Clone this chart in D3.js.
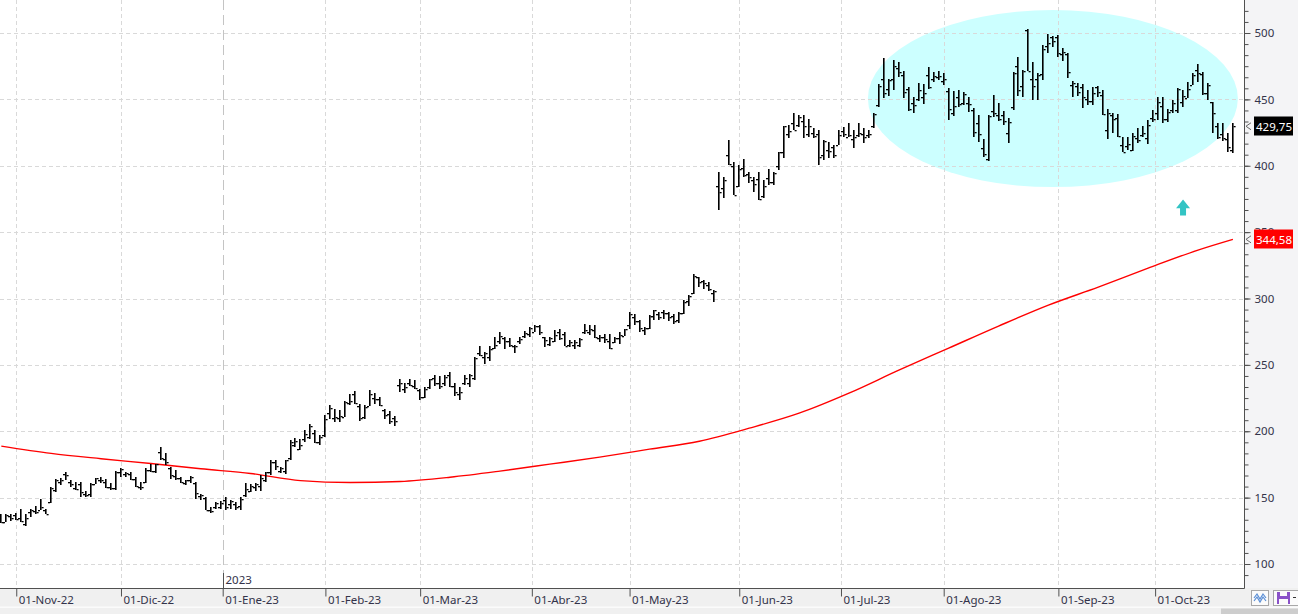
<!DOCTYPE html>
<html><head><meta charset="utf-8">
<script src="https://cdn.jsdelivr.net/npm/d3@7"></script>
<style>
html,body{margin:0;padding:0;background:#fff;overflow:hidden}
svg{display:block;font-family:"Noto Sans","Open Sans",sans-serif}
</style></head><body>
<svg id="c" width="1298" height="614"></svg>
<script>
// ---------- DATA ----------
const tradingDays = [
 ["2022-10",[27,28,31]],
 ["2022-11",[1,2,3,4,7,8,9,10,11,14,15,16,17,18,21,22,23,25,28,29,30]],
 ["2022-12",[1,2,5,6,7,8,9,12,13,14,15,16,19,20,21,22,23,27,28,29,30]],
 ["2023-01",[3,4,5,6,9,10,11,12,13,17,18,19,20,23,24,25,26,27,30,31]],
 ["2023-02",[1,2,3,6,7,8,9,10,13,14,15,16,17,21,22,23,24,27,28]],
 ["2023-03",[1,2,3,6,7,8,9,10,13,14,15,16,17,20,21,22,23,24,27,28,29,30,31]],
 ["2023-04",[3,4,5,6,10,11,12,13,14,17,18,19,20,21,24,25,26,27,28]],
 ["2023-05",[1,2,3,4,5,8,9,10,11,12,15,16,17,18,19,22,23,24,25,26,30,31]],
 ["2023-06",[1,2,5,6,7,8,9,12,13,14,15,16,20,21,22,23,26,27,28,29,30]],
 ["2023-07",[3,5,6,7,10,11,12,13,14,17,18,19,20,21,24,25,26,27,28,31]],
 ["2023-08",[1,2,3,4,7,8,9,10,11,14,15,16,17,18,21,22,23,24,25,28,29,30,31]],
 ["2023-09",[1,5,6,7,8,11,12,13,14,15,18,19,20,21,22,25,26,27,28,29]],
 ["2023-10",[2,3,4,5,6,9,10,11,12,13,16,17,18,19,20,23]]
];

const opens = [134,132,136,
137,135,130,139,140,141,141,147,156,162,168,162,157,160,153,153,160.5,163,162,158,157,
169,168,168,164,158,162,171,170,184,179,172,166,165,161,163,161,151,150,141,143,143,
148.5,145.5,145,144,152,155,158,159,163,169,177,170,170,180,190,187,194,196,199,192,
197,214,210,210,211,221,228,219,211,219,225,224,216,213,210,235,232,236,234,
231,226,233,240,236,236,242,234,228,236,236,240,259,256,256,263,268,270,268,264,268,272,273,
275,279,271,266,268,275,273,265,265,265,275,275,276,270,271,268,267,270,272,
280,286,283,276,278,287,288,290,289,287,284,289,298,304,316,313,310,304,385,383,408,400,
385,398,394,389,390,377,391,388,400,410,424,432,431,434,424,425,424,408,412,414,416,
426,422,420,423,424,423,430,446,465,458,465,474,468,458,447,450,452,468,465,467,
464,456,440,452,447,447,442,432,413,405,441,438,438,425,444,475,460,502,465,465,469,490,497,
497,484,484,461,460,459,450,449,459,453,427,438,436,416,415,412,421,423,421,436,
440,445,435,442,442,448,451,461,472,469,455,448,430,424,420,412];

const highs = [137.5,137.5,138,
138.5,141.5,137.5,141.8,143.6,148.6,141.8,158.1,164.4,164.9,169.4,163.2,161.9,161.9,155.1,160.7,164.9,165.2,163.7,160.7,170,
172,169.4,169.4,165.7,161.9,172,175.7,175.7,188.3,183.3,173.2,170.7,165.7,163.2,166.2,161.9,153.1,150.6,142.6,146.8,147.6,
150.1,148.1,146.8,150.1,160.7,160.2,160.7,166.9,169.4,178.2,178.2,173.2,178.2,193.3,194.6,194.5,200.8,205.8,201.3,197,
212.1,219.6,217.1,215.9,222.6,228.4,230.2,220.9,219.6,230.9,228.9,225.9,217.1,215.4,211.3,239,236.5,239,238.5,
232.2,233.5,239.7,242.2,241.7,242.7,244.8,236,233.5,242.2,243.5,256,264.1,259.8,264,271,275,271.1,269.9,264.8,271.1,275.6,278.6,
279.9,279.9,271.1,271.1,276.1,277.4,274.9,268.6,268.6,269.9,281,279.9,279.9,272.4,273.6,273.6,271.1,274.9,277.4,
289.9,288.7,283.7,278.6,287.4,291.7,289.9,291.2,289.9,288.7,289.9,298.8,302.5,318.3,316.3,313.8,312.6,306.3,395.5,391.7,419.3,403,
400.5,404.8,395.5,391.7,395.5,389.2,397.2,395.5,410.5,429.9,430.6,439.9,438,438,435,428.1,426.9,419.3,418.1,415.6,426.9,
429.4,431.9,426.9,431.9,428.2,426.9,439.5,461.6,480.9,465.1,479.7,478.4,471.6,459.6,452,462.1,461.6,474.1,470.9,471.6,
469.6,458.3,456.5,457,455.8,452,443.2,438.2,419.9,438.2,453.3,447,441.5,435.7,470.9,482.2,472.1,502.8,478.4,469.6,491,499.3,497.7,
498.5,488.4,485.2,463.8,462.1,461.3,457,459.1,460.1,457,442.5,440,439,421.4,421.9,424.9,428.2,429.9,434.4,442,
452,451.5,442.5,449.5,458.3,457,463.3,469.6,476.6,470.9,462.6,448.3,432.4,432.4,424.4,432.4];

const lows = [131,131.8,132.5,
133,132,128.7,135.5,137.5,140.6,137.3,145.6,154.4,159.4,163.2,158.1,155.6,150.6,150.6,150.6,160,161.2,157.4,155.6,156.1,
165.7,165.2,163.2,158.1,155.6,161,169.4,168.2,178.2,174.5,164.4,163.2,160.7,159.4,160.7,148.6,148.1,140.6,138.6,141.8,141.1,
140.6,141.8,140.6,140.6,150.6,154.4,155.1,155.1,161.9,166.9,170.7,168.2,167.7,178.2,188.3,185.7,192,194.5,191.3,189.5,
195.8,209.6,207.1,207.1,210.8,219.6,220.9,207.8,209.1,218.9,220.9,219.1,209.1,205.8,203.8,229.7,228.9,234,231.7,
223.9,224.7,231.7,234.2,232.2,234.2,233.5,226.7,223.4,234.7,233.5,238.5,256.6,251,253,262,266.1,262.3,263.1,258.6,266.1,270.6,271.1,
274.9,272.4,263.6,264.1,267.3,268.6,264.1,263.1,262.3,263.1,273.6,272.4,269.9,267.3,266.6,262.3,266.6,266.1,271.6,
277.4,279.9,274.9,272.4,277.4,283.7,283.7,284.2,283.2,280.7,281.2,288.7,294.2,303.3,308.8,307.5,305.8,297.5,366.6,375.4,400.5,377.9,
384.2,391.7,386.7,380.4,374.1,375.4,385.4,385.4,396.7,405.5,420.6,426.9,429.4,420.6,421.8,420.6,400.5,404.2,405.5,405.5,415.6,
421.8,421.8,413,421.8,416.8,420.6,428.2,444.5,450.8,452.5,457,467.1,450.8,441.5,440,449,446.5,457.6,463.3,464.6,
460.8,434.4,437.5,444,445.7,440.7,421.4,418.1,406.3,403.8,436.9,433.9,430.7,416.9,442,452.5,452,471,449.5,449.5,464.6,484.7,489.7,
482.2,479.2,465.8,451.5,452.5,443.2,445.7,445.7,452,438.2,419.9,424.4,421.9,410.1,411.8,411.3,416.9,421.9,416.4,433.2,
434.4,432.4,433.2,439.5,439.5,444.5,450.8,460.8,463.3,453.3,449.5,424.4,419.9,418.9,410.6,409.3];

const closes = [132,137,135,
134,132.5,134.5,140.5,139.5,143,137.5,157.5,163,163.5,167,159.9,156.8,154,152,160.3,164.5,163,158.3,157,169.2,
171.5,168.5,164,159,158,171,170,175,180,177,167,165,162,163,165.6,153.4,152,141,140,146,146,
143,147.5,142.7,148.6,156.3,159,160,165,169,177,173.8,172,178,192,192.5,189.4,197.9,203.7,191.9,195.4,
209.4,217.7,211,211.5,222,222.5,221,210,218,228,224,220,212,208,207.5,236.6,233,235,232.5,
226,232,239,236,234,241,234,229.6,229.6,240,242,255.4,257.2,259,262,264.7,271.9,267.8,265.3,264.1,269.8,273.8,277.8,
279.6,274.5,268.8,270.4,272.2,270,264.3,267.6,267.2,269.5,276.5,277,271,271.3,269.6,263,270,272.3,277.3,
288,283,278,278,286.9,291,286,289,286,283.4,289,297,301.8,316.8,312.6,311.8,306.9,305.4,380,389.5,401.1,378.3,
397.7,393.3,391.7,386.5,374.75,385.1,387.7,394.8,410.2,429.9,426.5,427,436.4,430,430.3,422.5,406.3,418.8,411.2,408.2,423,
424.1,423,421.8,425,421.8,424,439,459.8,454.7,464.6,474.9,470.8,455.2,443.1,446.1,456.8,454.5,459,467.5,467.3,
465,442.7,445.2,446.8,454.2,446.6,425.5,423.9,408.5,437.5,439.4,434.9,433.4,433,469.7,456.7,471.2,471.6,460.2,468.4,487.8,492.6,493.6,
485.1,485.5,470.6,462.4,455.7,451.8,448.7,454.9,455.8,439,439.7,435.2,422.4,410.2,416.1,422.2,419.1,424.7,430.9,435,
447.8,435.2,440.4,446.9,457.6,452.7,458,468.1,469.5,454.6,461,439.4,422,421,413.9,429.75];

// 200-session moving average (bar number, value)
const smaBars   = [0,10,20,30,40,50,60,70,80,90,100,110,120,130,140,150,160,170,180,190,200,210,220,230,240,247];
const smaValues = [188.8,183.3,179.3,175.7,171.7,168.2,162.8,161.4,162.2,165.4,170,175.2,180.5,186.5,192.5,202.3,213.6,228.7,246,262.6,279.2,295,308.6,322.9,336.5,344.58];

const monthKeys   = ["2022-11","2022-12","2023-01","2023-02","2023-03","2023-04","2023-05","2023-06","2023-07","2023-08","2023-09","2023-10"];
const monthLabels = ["01-Nov-22","01-Dic-22","01-Ene-23","01-Feb-23","01-Mar-23","01-Abr-23","01-May-23","01-Jun-23","01-Jul-23","01-Ago-23","01-Sep-23","01-Oct-23"];
const yearMark = {key:"2023-01", label:"2023"};
const priceTicks = [100,150,200,250,300,350,400,450,500];

// annotation (in data units)
const zone = {bar:210.9, price:450.6, halfBars:37.1, halfPrice:66.7};
const arrowMark = {bar:237, top:374.5, bottom:362.6};

// ---------- BUILD ----------
const dates = [];
tradingDays.forEach(([m,days]) => days.forEach(d => dates.push({month:m, day:d})));
const n = dates.length;

const svg = d3.select("#c");
const W = 1298, H = 614, plotR = 1244, plotB = 588;

const x = d3.scaleLinear().domain([0, n-1]).range([1.3, 1232.9]);
const y = d3.scaleLinear().domain([100, 500]).range([564, 33]);

// backgrounds
svg.append("rect").attr("width",W).attr("height",H).attr("fill","#fff");
svg.append("rect").attr("x",plotR+1).attr("y",0).attr("width",W-plotR-1).attr("height",plotB).attr("fill","#f4f4f6");
svg.append("rect").attr("x",0).attr("y",plotB).attr("width",W).attr("height",H-plotB).attr("fill","#f0f0f0");
svg.append("rect").attr("x",0).attr("y",606.5).attr("width",W).attr("height",1.5).attr("fill","#fbfbfb");
svg.append("rect").attr("x",1221).attr("y",608.5).attr("width",W-1221).attr("height",6).attr("fill","#cdcdcd");

// highlighted zone
svg.append("ellipse")
  .attr("cx", x(zone.bar)).attr("cy", y(zone.price))
  .attr("rx", x(zone.halfBars) - x(0)).attr("ry", y(0) - y(zone.halfPrice))
  .attr("fill","#ccffff");

// month tick positions
const monthPos = monthKeys.map(k => {
  const idx = dates.findIndex(d => d.month === k);
  return dates[idx].day === 1 ? idx : idx - 0.6;
});
const yearPos = monthPos[monthKeys.indexOf(yearMark.key)];

// grid
const grid = svg.append("g");
grid.selectAll("line.h").data(priceTicks).join("line")
  .attr("x1",0).attr("x2",plotR).attr("y1",d=>Math.round(y(d))+0.5).attr("y2",d=>Math.round(y(d))+0.5)
  .attr("stroke","#d9d9d9").attr("stroke-dasharray","4,3");
grid.selectAll("line.v").data(monthPos.filter(p => p !== yearPos)).join("line")
  .attr("x1",d=>Math.round(x(d))+0.5).attr("x2",d=>Math.round(x(d))+0.5).attr("y1",0).attr("y2",plotB)
  .attr("stroke","#d9d9d9").attr("stroke-dasharray","4,3");
grid.append("line")
  .attr("x1",Math.round(x(yearPos))+0.5).attr("x2",Math.round(x(yearPos))+0.5).attr("y1",0).attr("y2",578)
  .attr("stroke","#c4c4c4").attr("stroke-dasharray","10,5");

// SMA line
const smaPts = smaBars.map((b,i)=>[b, smaValues[i]]);
svg.append("path").datum(smaPts)
  .attr("d", d3.line().x(d=>x(d[0])).y(d=>y(d[1])).curve(d3.curveMonotoneX))
  .attr("fill","none").attr("stroke","#ff0000").attr("stroke-width",1.4);

// OHLC bars
const bars = svg.append("g").attr("fill","#000");
const idx = d3.range(n);
const px = i => Math.round(x(i));
bars.selectAll("rect.hl").data(idx).join("rect")
  .attr("x", i => px(i)-1).attr("width", 1.6)
  .attr("y", i => Math.round(y(highs[i])))
  .attr("height", i => Math.max(1, Math.round(y(lows[i])) - Math.round(y(highs[i]))));
bars.selectAll("rect.o").data(idx).join("rect")
  .attr("x", i => px(i)-3).attr("width", 2)
  .attr("y", i => Math.round(y(opens[i]))).attr("height", 1.3);
bars.selectAll("rect.c").data(idx).join("rect")
  .attr("x", i => px(i)+0.6).attr("width", 2)
  .attr("y", i => Math.round(y(closes[i]))).attr("height", 1.3);

// axis lines
svg.append("line").attr("x1",plotR+0.5).attr("x2",plotR+0.5).attr("y1",0).attr("y2",plotB+0.5).attr("stroke","#505050");
svg.append("line").attr("x1",0).attr("x2",plotR+0.5).attr("y1",plotB+0.5).attr("y2",plotB+0.5).attr("stroke","#505050");

// right axis
const minorTicks = d3.range(-1, 51).map(k => 100 + k*50/6);
const gMinor = svg.append("g").attr("transform",`translate(${plotR+0.5},0)`)
  .call(d3.axisRight(y).tickValues(minorTicks).tickSize(4).tickFormat(""));
const gMajor = svg.append("g").attr("transform",`translate(${plotR+0.5},0)`)
  .call(d3.axisRight(y).tickValues(priceTicks).tickSize(6).tickPadding(4).tickFormat(d3.format("d")));
[gMinor,gMajor].forEach(g => {
  g.select(".domain").remove();
  g.selectAll("line").attr("stroke","#505050");
  g.selectAll("text").attr("fill","#33334a").attr("font-size","11.5px")
    .attr("font-family",'"Noto Sans","Open Sans",sans-serif');
});

// bottom axis
const gX = svg.append("g").attr("transform",`translate(0,${plotB+0.5})`)
  .call(d3.axisBottom(x).tickValues(monthPos).tickSize(8).tickFormat((d,i)=>monthLabels[i]));
gX.select(".domain").remove();
gX.selectAll("line").attr("stroke","#505050");
gX.selectAll("text").attr("text-anchor","start").attr("x",2).attr("y",15.5).attr("dy",0)
  .attr("fill","#33334a").attr("font-size","11.5px").attr("font-family",'"Noto Sans","Open Sans",sans-serif');

// year marker
svg.append("line").attr("x1",Math.round(x(yearPos))+0.5).attr("x2",Math.round(x(yearPos))+0.5)
  .attr("y1",573).attr("y2",plotB).attr("stroke","#505050");
svg.append("text").attr("x",Math.round(x(yearPos))+2.5).attr("y",584)
  .attr("font-size","11.5px").attr("fill","#33334a").text(yearMark.label);

// value tags
const fmt = v => d3.format(".2f")(v).replace(".", ",");
function tag(v, bg){
  const yy = y(v);
  svg.append("path").attr("d",`M${plotR+7},${yy-3.5}L${plotR+2},${yy}L${plotR+7},${yy+3.5}`)
    .attr("fill","none").attr("stroke","#666").attr("stroke-width",1);
  svg.append("rect").attr("x",plotR+10).attr("y",Math.round(yy)-9.5).attr("width",39).attr("height",19).attr("fill",bg);
  svg.append("text").attr("x",plotR+12).attr("y",Math.round(yy)+4.5).attr("fill","#fff")
    .attr("font-size","11.5px").text(fmt(v));
}
tag(closes[n-1], "#000");
tag(smaValues[smaValues.length-1], "#ff0000");

// arrow
{
  const ax = x(arrowMark.bar), yt = y(arrowMark.top), yb = y(arrowMark.bottom);
  const hh = (yb-yt)*0.55;
  svg.append("path")
    .attr("d",`M${ax},${yt}L${ax+7},${yt+hh}L${ax+3},${yt+hh}L${ax+3},${yb}L${ax-3},${yb}L${ax-3},${yt+hh}L${ax-7},${yt+hh}Z`)
    .attr("fill","#33c4c4");
}

// buttons (UI chrome)
svg.append("rect").attr("x",1251.5).attr("y",590.5).attr("width",17).attr("height",15).attr("fill","#fbfbfb").attr("stroke","#a8a8a8");
svg.append("polyline").attr("points","1254,598 1257,594 1260,599 1263,594 1266,598").attr("fill","none").attr("stroke","#5b8fd6").attr("stroke-width",1.2);
svg.append("polyline").attr("points","1254,601 1257,597 1260,602 1263,597 1266,601").attr("fill","none").attr("stroke","#5b8fd6").attr("stroke-width",1.2);
svg.append("rect").attr("x",1273.5).attr("y",590.5).attr("width",26).attr("height",15).attr("fill","#fbfbfb").attr("stroke","#a8a8a8");
svg.append("rect").attr("x",1277).attr("y",592).attr("width",13).attr("height",12).attr("fill","#8a52c8");
svg.append("rect").attr("x",1280).attr("y",592).attr("width",7).attr("height",4).attr("fill","#fbfbfb");
svg.append("rect").attr("x",1279).attr("y",599).attr("width",9).attr("height",5).attr("fill","#fbfbfb");
svg.append("rect").attr("x",1293).attr("y",597).attr("width",3).attr("height",1).attr("fill","#333");
</script>
</body></html>
